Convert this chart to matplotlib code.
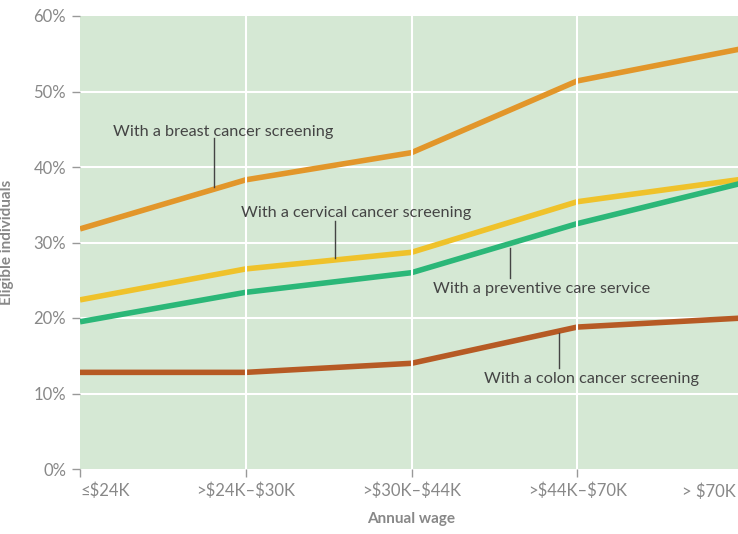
import matplotlib.pyplot as plt
import numpy as np

plt.rcParams['font.family'] = ['Lato', 'DejaVu Sans']
plt.rcParams['text.parse_math'] = False

# data
wage = ['≤$24K', '>$24K–$30K', '>$30K–$44K', '>$44K–$70K', '> $70K']
breast = [31.8, 38.3, 41.9, 51.4, 55.7]
cervical = [22.4, 26.5, 28.7, 35.4, 38.4]
preventive = [19.5, 23.4, 26.0, 32.5, 37.9]
colon = [12.8, 12.8, 14.0, 18.8, 20.0]

# (values, colour, label, label position, leader line x / y top / y bottom)
series = [
    (breast, '#E2962A', 'With a breast cancer screening', (0.2, 44.1), (0.81, 43.8, 37.4)),
    (cervical, '#EFC22B', 'With a cervical cancer screening', (0.97, 33.4), (1.54, 32.9, 28.0)),
    (preventive, '#2BB778', 'With a preventive care service', (2.13, 23.3), (2.595, 29.3, 25.3)),
    (colon, '#B65A24', 'With a colon cancer screening', (2.44, 11.4), (2.89, 18.0, 13.4)),
]

x = np.arange(len(wage))

fig = plt.figure(figsize=(7.38, 5.34), dpi=100)
ax = fig.add_axes([80 / 738, 65 / 534, 663 / 738, 453 / 534])
ax.set_facecolor('#D5E8D4')

for vals, col, lab, tpos, lead in series:
    ax.plot(x, vals, color=col, lw=4, zorder=3, solid_capstyle='butt')
    ax.text(tpos[0], tpos[1], lab, fontsize=11.7, color='#444444', va='baseline', ha='left', zorder=5)
    ax.plot([lead[0], lead[0]], [lead[1], lead[2]], color='#444444', lw=1, zorder=4)

# grid: horizontal below lines, vertical above them (white gaps at points)
for yv in range(10, 60, 10):
    ax.axhline(yv, color='white', lw=1.5, zorder=1)
for xv in x[1:]:
    ax.axvline(xv, color='white', lw=1.5, zorder=4)

ax.set_xlim(0, 4)
ax.set_ylim(0, 60)
ax.set_yticks(range(0, 61, 10))
ax.set_yticklabels([f'{v}%' for v in range(0, 61, 10)])
ax.set_xticks(x)
ax.set_xticklabels(wage[:-1] + [''])
ax.get_xticklabels()[0].set_horizontalalignment('left')
# last label sits flush with the right edge of the figure
ax.text(3.955, -0.031, wage[-1], transform=ax.get_xaxis_transform(), ha='right', va='top',
        fontsize=12, color='#888888')

for s in ax.spines.values():
    s.set_visible(False)
ax.tick_params(axis='y', colors='#999999', labelcolor='#888888', labelsize=12, length=6, width=1, pad=4)
ax.tick_params(axis='x', colors='#999999', labelcolor='#888888', labelsize=12, length=6, width=1, pad=4)

ax.set_xlabel('Annual wage', fontsize=11, fontweight='bold', color='#888888', labelpad=9)
ax.set_ylabel('Eligible individuals', fontsize=11, fontweight='bold', color='#888888')
ax.yaxis.set_label_coords(-0.1, 0.5)

fig.savefig('out.png', dpi=100)
